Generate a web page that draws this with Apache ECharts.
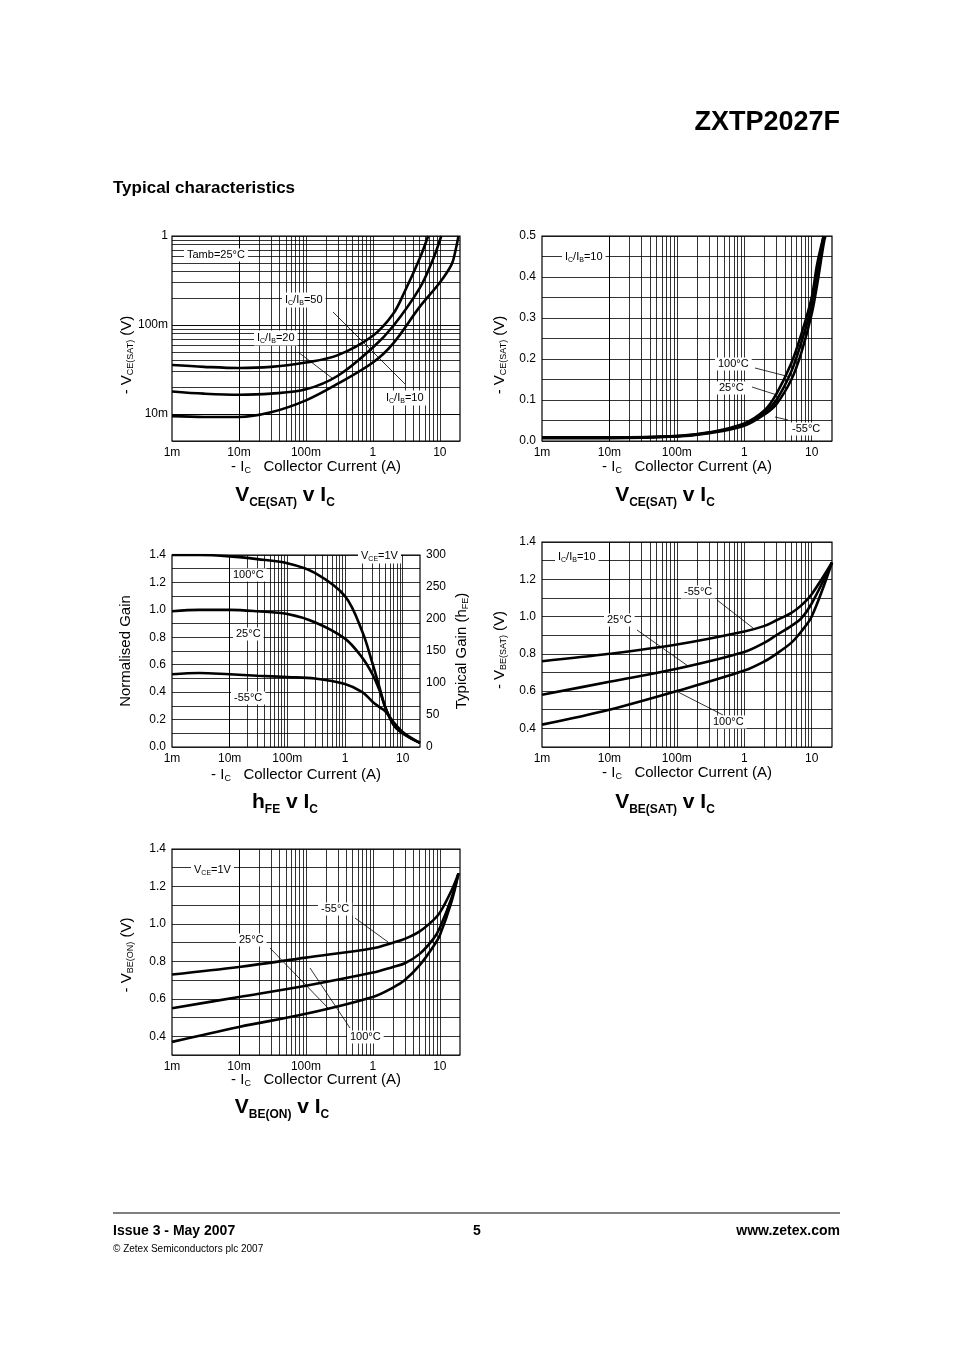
<!DOCTYPE html>
<html>
<head>
<meta charset="utf-8">
<script src="https://cdn.jsdelivr.net/npm/echarts@6/dist/echarts.min.js"></script>
<style>
	html, body { margin: 0; padding: 0; background: #fff; }
	#chart { width: 954px; height: 1350px; }
</style>
</head>
<body>
<div id="chart"></div>
<script>
	// collector current (A) points
	var vceIc = [0.001, 0.003, 0.01, 0.03, 0.1, 0.3, 1, 2, 3, 5];
	var vce50 = [0.0356, 0.034, 0.033, 0.034, 0.038, 0.046, 0.076, 0.133, 0.24, 0.56];
	var vce50Tail = [[6.7, 1.0]];
	var vce20Ic = [0.001, 0.003, 0.01, 0.03, 0.1, 0.3, 1, 2, 5, 8, 10.5];
	var vce20 = [0.018, 0.017, 0.0165, 0.017, 0.019, 0.027, 0.056, 0.097, 0.26, 0.56, 1.0];
	var vce10Ic = [0.001, 0.003, 0.01, 0.03, 0.1, 0.3, 1, 2, 5, 10, 15, 17, 19];
	var vce10 = [0.0095, 0.0093, 0.0093, 0.0105, 0.0143, 0.022, 0.038, 0.062, 0.16, 0.30, 0.48, 0.67, 1.0];

	var satIc = [0.001, 0.01, 0.1, 0.3, 1, 2, 3, 5, 7, 10, 12, 15, 16];
	var sat100 = [0.009, 0.009, 0.012, 0.021, 0.043, 0.075, 0.115, 0.19, 0.26, 0.35, 0.43, 0.5, null];
	var sat25 = [0.008, 0.008, 0.012, 0.02, 0.04, 0.07, 0.1, 0.17, 0.24, 0.33, 0.41, 0.5, null];
	var satM55 = [0.007, 0.007, 0.011, 0.019, 0.037, 0.065, 0.09, 0.15, 0.215, 0.31, 0.38, 0.48, 0.5];

	var hfeIc = [0.001, 0.003, 0.01, 0.03, 0.1, 0.3, 1, 2, 3, 4, 5, 7, 10, 15, 20];
	var hfe100 = [1.40, 1.40, 1.39, 1.37, 1.34, 1.27, 1.10, 0.84, 0.61, 0.43, 0.29, 0.16, 0.10, 0.056, 0.03];
	var hfe25 = [0.99, 1.00, 1.00, 0.99, 0.97, 0.91, 0.79, 0.65, 0.53, 0.41, 0.29, 0.16, 0.10, 0.056, 0.03];
	var hfeM55 = [0.53, 0.54, 0.53, 0.52, 0.51, 0.50, 0.46, 0.40, 0.33, 0.29, 0.26, 0.18, 0.11, 0.06, 0.03];

	var vbsIc = [0.001, 0.01, 0.1, 1, 2, 3, 5, 7, 10, 20];
	var vbsM55 = [0.76, 0.80, 0.85, 0.92, 0.95, 0.98, 1.02, 1.06, 1.12, 1.29];
	var vbs25 = [0.58, 0.65, 0.72, 0.81, 0.86, 0.90, 0.95, 0.99, 1.07, 1.29];
	var vbs100 = [0.42, 0.50, 0.60, 0.71, 0.76, 0.80, 0.86, 0.92, 1.00, 1.29];

	var vbonIc = [0.001, 0.01, 0.1, 1, 2, 3, 5, 8, 10, 15, 19];
	var vbonM55 = [0.73, 0.77, 0.82, 0.87, 0.90, 0.92, 0.96, 1.02, 1.06, 1.18, 1.27];
	var vbon25 = [0.55, 0.61, 0.67, 0.74, 0.77, 0.79, 0.84, 0.92, 0.98, 1.14, 1.27];
	var vbon100 = [0.37, 0.45, 0.52, 0.61, 0.66, 0.70, 0.78, 0.88, 0.94, 1.12, 1.27];

	var decadeLabels = {'-3': '1m', '-2': '10m', '-1': '100m', '0': '1', '1': '10'};

	function pairs(xs, ys) {
		var out = [];
		for (var i = 0; i < xs.length; i++) {
			if (ys[i] != null) out.push([xs[i], ys[i]]);
		}
		return out;
	}

	function logGrid(lo, hi, maxv) {
		var vals = [];
		for (var e = lo; e <= hi; e++) {
			for (var k = 1; k <= 9; k++) {
				var v = k * Math.pow(10, e);
				if (v < maxv * 0.999) vals.push(v);
			}
		}
		return vals;
	}

	function logLabel(v) {
		var l = Math.log10(v), r = Math.round(l);
		if (Math.abs(l - r) > 0.001) return '';
		return decadeLabels[String(r)] || (r === -2 ? '10m' : '');
	}

	var tickFont = {color: '#000', fontSize: 12, fontFamily: 'Liberation Sans'};

	var grids = [
		{left: 172, top: 236, width: 288, height: 205},
		{left: 542, top: 236, width: 290, height: 205},
		{left: 172, top: 555, width: 248, height: 192},
		{left: 542, top: 542, width: 290, height: 205},
		{left: 172, top: 849, width: 288, height: 206}
	].map(function (g) {
		g.show = true; g.borderColor = '#000'; g.borderWidth = 1.2;
		return g;
	});

	var xAxes = grids.map(function (g, i) {
		return {
			type: 'log', gridIndex: i, min: 0.001, max: 20, logBase: 10,
			axisLine: {show: false}, axisTick: {show: false}, splitLine: {show: false},
			axisLabel: Object.assign({formatter: logLabel, margin: 6, showMaxLabel: false}, tickFont)
		};
	});

	var yAxes = [
		{type: 'log', gridIndex: 0, min: 0.005, max: 1,
			axisLabel: Object.assign({formatter: function (v) {
				var l = Math.round(Math.log10(v));
				if (Math.abs(Math.log10(v) - l) > 0.001) return '';
				return l === 0 ? '1' : l === -1 ? '100m' : l === -2 ? '10m' : '';
			}, margin: 4}, tickFont)},
		{type: 'value', gridIndex: 1, min: 0, max: 0.5, interval: 0.1,
			minorSplitLine: {show: true, lineStyle: {color: '#000', width: 0.8}}, minorTick: {show: false, splitNumber: 2},
			axisLabel: Object.assign({formatter: function (v) { return v.toFixed(1); }, margin: 6}, tickFont)},
		{type: 'value', gridIndex: 2, min: 0, max: 1.4, interval: 0.2,
			minorSplitLine: {show: true, lineStyle: {color: '#000', width: 0.8}}, minorTick: {show: false, splitNumber: 2},
			axisLabel: Object.assign({formatter: function (v) { return v.toFixed(1); }, margin: 6}, tickFont)},
		{type: 'value', gridIndex: 2, min: 0, max: 300, interval: 50, position: 'right',
			splitLine: {show: false},
			axisLabel: Object.assign({margin: 6}, tickFont)},
		{type: 'value', gridIndex: 3, min: 0.3, max: 1.4, interval: 0.1,
			axisLabel: Object.assign({formatter: function (v) {
				return Math.round(v * 10) % 2 === 0 ? v.toFixed(1) : '';
			}, margin: 6}, tickFont)},
		{type: 'value', gridIndex: 4, min: 0.3, max: 1.4, interval: 0.1,
			axisLabel: Object.assign({formatter: function (v) {
				return Math.round(v * 10) % 2 === 0 ? v.toFixed(1) : '';
			}, margin: 6}, tickFont)}
	].map(function (a) {
		a.axisLine = {show: false};
		a.axisTick = {show: false};
		if (!a.splitLine) a.splitLine = {show: true, lineStyle: {color: '#000', width: 0.8}};
		return a;
	});

	var thinLine = {color: '#000', width: 0.8, type: 'solid'};
	var series = [];

	// log grid lines for every chart
	var yAxisOfGrid = [0, 1, 2, 4, 5];
	grids.forEach(function (g, i) {
		var md = logGrid(-3, 1, 20).map(function (v) { return {xAxis: v}; });
		if (i === 0) {
			logGrid(-3, -1, 1).forEach(function (v) { if (v >= 0.005) md.push({yAxis: v}); });
		}
		series.push({
			type: 'line', xAxisIndex: i, yAxisIndex: yAxisOfGrid[i], data: [], silent: true,
			markLine: {silent: true, symbol: 'none', label: {show: false}, lineStyle: thinLine, data: md, animation: false}
		});
	});

	function curve(i, yi, data) {
		series.push({
			type: 'line', xAxisIndex: i, yAxisIndex: yi, data: data, smooth: 0.35,
			symbol: 'none', lineStyle: {color: '#000', width: 2.6}, z: 5, animation: false
		});
	}

	curve(0, 0, pairs(vceIc, vce50).concat(vce50Tail));
	curve(0, 0, pairs(vce20Ic, vce20));
	curve(0, 0, pairs(vce10Ic, vce10));
	curve(1, 1, pairs(satIc, sat100));
	curve(1, 1, pairs(satIc, sat25));
	curve(1, 1, pairs(satIc, satM55));
	curve(2, 2, pairs(hfeIc, hfe100));
	curve(2, 2, pairs(hfeIc, hfe25));
	curve(2, 2, pairs(hfeIc, hfeM55));
	curve(3, 4, pairs(vbsIc, vbsM55));
	curve(3, 4, pairs(vbsIc, vbs25));
	curve(3, 4, pairs(vbsIc, vbs100));
	curve(4, 5, pairs(vbonIc, vbonM55));
	curve(4, 5, pairs(vbonIc, vbon25));
	curve(4, 5, pairs(vbonIc, vbon100));

	// text helpers
	var FF = 'Liberation Sans';
	function rich(size) {
		return {
			a: {fontSize: size, fontFamily: FF, color: '#000'},
			s: {fontSize: Math.round(size * 0.62), fontFamily: FF, color: '#000', padding: [Math.round(size * 0.55), 0, 0, 0]},
			b: {fontSize: size, fontFamily: FF, color: '#000', fontWeight: 'bold'},
			bs: {fontSize: Math.round(size * 0.55), fontFamily: FF, color: '#000', fontWeight: 'bold', padding: [Math.round(size * 0.7), 0, 0, 0]}
		};
	}
	function txt(x, y, text, size, opts) {
		opts = opts || {};
		return {
			type: 'text', x: x, y: y, rotation: opts.rot || 0, z: 20,
			style: {
				text: text, rich: rich(size), fontSize: size, fontFamily: FF,
				fontWeight: opts.bold ? 'bold' : 'normal', fill: '#000',
				align: opts.align || 'left', verticalAlign: 'middle',
				backgroundColor: opts.box ? '#fff' : null, padding: opts.box ? [1, 3] : 0
			}
		};
	}
	function seg(x1, y1, x2, y2) {
		return {type: 'line', z: 19, shape: {x1: x1, y1: y1, x2: x2, y2: y2}, style: {stroke: '#000', lineWidth: 0.8}};
	}

	var xName = '{a|- I}{s|C}{a|   Collector Current (A)}';
	var graphic = [
		txt(840, 123, 'ZXTP2027F', 27, {bold: true, align: 'right'}),
		txt(113, 188, 'Typical characteristics', 17, {bold: true}),

		// chart 1
		txt(316, 467, xName, 15, {align: 'center'}),
		txt(285, 495, '{b|V}{bs|CE(SAT)}{b| v I}{bs|C}', 21, {align: 'center'}),
		txt(127, 355, '{a|- V}{s|CE(SAT)}{a| (V)}', 15, {align: 'center', rot: Math.PI / 2}),
		txt(184, 255, 'Tamb=25°C', 11, {box: true}),
		txt(282, 300, '{a|I}{s|C}{a|/I}{s|B}{a|=50}', 11, {box: true}),
		txt(254, 338, '{a|I}{s|C}{a|/I}{s|B}{a|=20}', 11, {box: true}),
		txt(383, 398, '{a|I}{s|C}{a|/I}{s|B}{a|=10}', 11, {box: true}),
		seg(333, 312, 405, 384),
		seg(298, 352, 332, 378),

		// chart 2
		txt(687, 467, xName, 15, {align: 'center'}),
		txt(665, 495, '{b|V}{bs|CE(SAT)}{b| v I}{bs|C}', 21, {align: 'center'}),
		txt(500, 355, '{a|- V}{s|CE(SAT)}{a| (V)}', 15, {align: 'center', rot: Math.PI / 2}),
		txt(562, 257, '{a|I}{s|C}{a|/I}{s|B}{a|=10}', 11, {box: true}),
		txt(715, 364, '100°C', 11, {box: true}),
		txt(716, 388, '25°C', 11, {box: true}),
		txt(789, 429, '-55°C', 11, {box: true}),
		seg(755, 368, 790, 377),
		seg(752, 387, 777, 395),
		seg(775, 417, 788, 420),

		// chart 3
		txt(296, 775, xName, 15, {align: 'center'}),
		txt(285, 802, '{b|h}{bs|FE}{b| v I}{bs|C}', 21, {align: 'center'}),
		txt(126, 651, 'Normalised Gain', 15, {align: 'center', rot: Math.PI / 2}),
		txt(462, 651, '{a|Typical Gain (h}{s|FE}{a|)}', 15, {align: 'center', rot: Math.PI / 2}),
		txt(358, 556, '{a|V}{s|CE}{a|=1V}', 11, {box: true}),
		txt(230, 575, '100°C', 11, {box: true}),
		txt(233, 634, '25°C', 11, {box: true}),
		txt(231, 698, '-55°C', 11, {box: true}),

		// chart 4
		txt(687, 773, xName, 15, {align: 'center'}),
		txt(665, 802, '{b|V}{bs|BE(SAT)}{b| v I}{bs|C}', 21, {align: 'center'}),
		txt(500, 650, '{a|- V}{s|BE(SAT)}{a| (V)}', 15, {align: 'center', rot: Math.PI / 2}),
		txt(555, 557, '{a|I}{s|C}{a|/I}{s|B}{a|=10}', 11, {box: true}),
		txt(681, 592, '-55°C', 11, {box: true}),
		txt(604, 620, '25°C', 11, {box: true}),
		txt(710, 722, '100°C', 11, {box: true}),
		seg(717, 600, 753, 628),
		seg(637, 630, 688, 666),
		seg(678, 692, 723, 715),

		// chart 5
		txt(316, 1080, xName, 15, {align: 'center'}),
		txt(282, 1107, '{b|V}{bs|BE(ON)}{b| v I}{bs|C}', 21, {align: 'center'}),
		txt(127, 955, '{a|- V}{s|BE(ON)}{a| (V)}', 15, {align: 'center', rot: Math.PI / 2}),
		txt(191, 870, '{a|V}{s|CE}{a|=1V}', 11, {box: true}),
		txt(318, 909, '-55°C', 11, {box: true}),
		txt(236, 940, '25°C', 11, {box: true}),
		txt(347, 1037, '100°C', 11, {box: true}),
		seg(355, 918, 388, 942),
		seg(270, 948, 328, 1008),
		seg(310, 968, 350, 1028),

		// footer
		{type: 'line', shape: {x1: 113, y1: 1213, x2: 840, y2: 1213}, style: {stroke: '#000', lineWidth: 1.2}},
		txt(113, 1231, 'Issue 3 - May 2007', 14, {bold: true}),
		txt(477, 1231, '5', 14, {bold: true, align: 'center'}),
		txt(840, 1231, 'www.zetex.com', 14, {bold: true, align: 'right'}),
		txt(113, 1249, '© Zetex Semiconductors plc 2007', 10)
	];

	var myChart = echarts.init(document.getElementById('chart'));
	var option = {
		backgroundColor: '#fff',
		animation: false,
		grid: grids,
		xAxis: xAxes,
		yAxis: yAxes,
		series: series,
		graphic: graphic
	};
	myChart.setOption(option);
</script>
</body>
</html>
